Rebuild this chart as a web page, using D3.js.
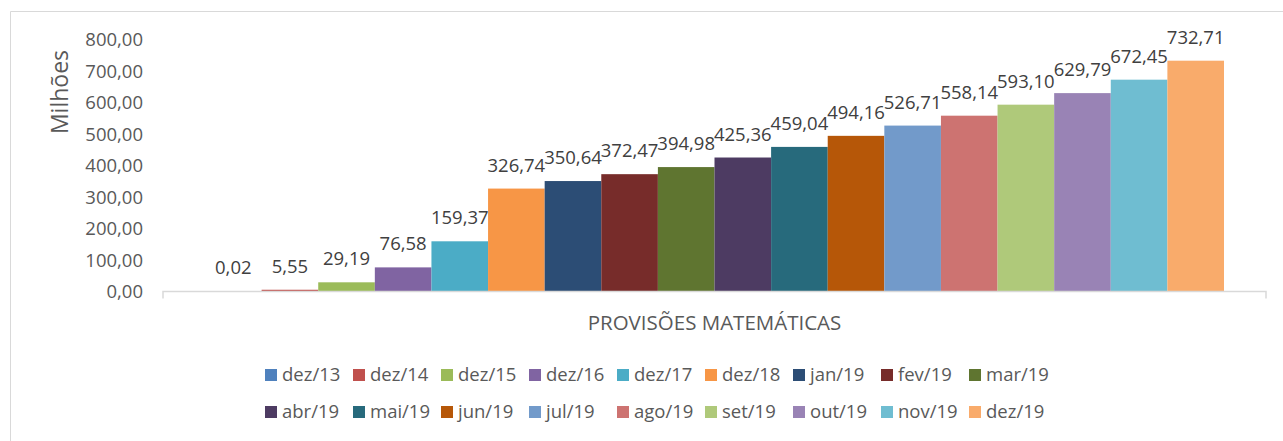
<!DOCTYPE html>
<html><head><meta charset="utf-8">
<script src="https://cdn.jsdelivr.net/npm/d3@7"></script>
<style>
html,body{margin:0;padding:0;background:#fff;}
svg{display:block;font-family:"Open Sans",sans-serif;}
</style></head>
<body><svg id="chart" width="1283" height="441"></svg>
<script>
const category = "PROVISÕES MATEMÁTICAS";
const seriesNames = ["dez/13","dez/14","dez/15","dez/16","dez/17","dez/18","jan/19","fev/19","mar/19","abr/19","mai/19","jun/19","jul/19","ago/19","set/19","out/19","nov/19","dez/19"];
const seriesValues = [0.02,5.55,29.19,76.58,159.37,326.74,350.64,372.47,394.98,425.36,459.04,494.16,526.71,558.14,593.10,629.79,672.45,732.71];
const seriesColors = ["#4F81BD","#C0504D","#9BBB59","#8064A2","#4BACC6","#F79646","#2C4D75","#772C2A","#5F7530","#4D3B62","#276A7C","#B65708","#729ACA","#CD7371","#AFC97A","#9983B5","#6FBDD1","#F9AB6B"];
const yTicks = [0,100,200,300,400,500,600,700,800];
const yTitle = "Milhões";

const fmt = v => v.toFixed(2).replace(".", ",");
const svg = d3.select("#chart");

// chart border (only top/left visible in reference)
svg.append("path").attr("d","M10.5,441 V11.5 H1283").attr("fill","none").attr("stroke","#d9d9d9").attr("stroke-width",1);

const plotLeft = 163, plotRight = 1266, y0 = 291.5, yTop = 39.5;
const y = d3.scaleLinear().domain([0,800]).range([y0, yTop]);
const x0 = d3.scaleBand().domain([category]).range([plotLeft, plotRight]).padding(0);
const gap = 42;
const xs = d3.scaleBand().domain(seriesNames).range([x0(category)+gap, x0(category)+x0.bandwidth()-gap]).padding(0);

// y axis labels
const yAxis = d3.axisLeft(y).tickValues(yTicks).tickFormat(fmt).tickSize(0).tickPadding(0);
const gy = svg.append("g").attr("transform","translate(143,0)").call(yAxis);
gy.select(".domain").remove();
gy.selectAll("text").attr("fill","#595959").style("font-size","18.5px").style("font-family","'Open Sans',sans-serif").attr("dy","0.35em");

svg.append("text").attr("transform","translate(68,92) rotate(-90)").attr("text-anchor","middle")
  .attr("fill","#595959").style("font-size","23px").text(yTitle);

// bars
const data = seriesNames.map((n,i)=>({name:n,value:seriesValues[i],color:seriesColors[i]}));
svg.append("g").selectAll("rect").data(data).join("rect")
  .attr("x",d=>xs(d.name)).attr("width",xs.bandwidth())
  .attr("y",d=>y(d.value)).attr("height",d=>y0-y(d.value))
  .attr("fill",d=>d.color);

// x axis line with end ticks
svg.append("path").attr("d",`M${plotLeft},${y0+7} V${y0} H${plotRight} V${y0+7}`)
  .attr("fill","none").attr("stroke","#d9d9d9").attr("stroke-width",1.5);
svg.append("text").attr("x",x0(category)+x0.bandwidth()/2).attr("y",330).attr("text-anchor","middle")
  .attr("fill","#595959").style("font-size","20.5px").text(category);

// data labels
svg.append("g").selectAll("text").data(data).join("text")
  .attr("x",d=>xs(d.name)+xs.bandwidth()/2)
  .attr("y",d=>y(d.value)-17)
  .attr("text-anchor","middle").attr("fill","#404040").style("font-size","18.5px")
  .text(d=>fmt(d.value));

// legend
const perRow = 9, lx = 265, ldx = 88, ly = [375, 412];
const lg = svg.append("g").selectAll("g").data(data).join("g")
  .attr("transform",(d,i)=>`translate(${lx+(i%perRow)*ldx},${ly[Math.floor(i/perRow)]})`);
lg.append("rect").attr("x",0).attr("y",-6).attr("width",12).attr("height",12).attr("fill",d=>d.color);
lg.append("text").attr("x",17).attr("y",0).attr("dy","0.35em").attr("fill","#595959").style("font-size","18.5px").text(d=>d.name);
</script></body></html>
